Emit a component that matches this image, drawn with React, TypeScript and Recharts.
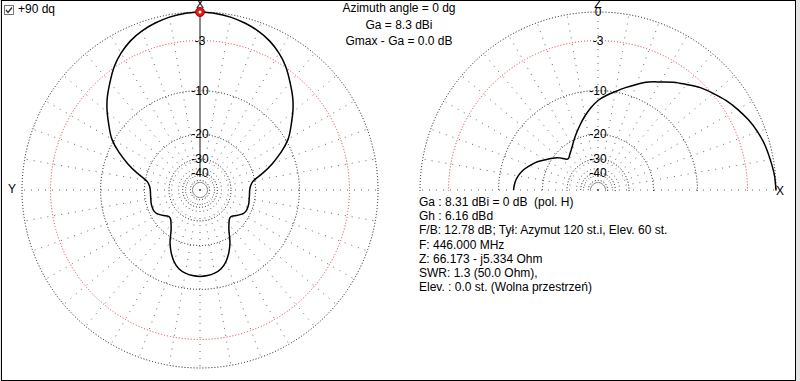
import {
  RadarChart,
  Radar,
  PolarGrid,
  PolarAngleAxis,
  PolarRadiusAxis,
  Curve,
} from "recharts";

// Azimuth pattern (left plot); symmetric, mirrored for 185..355
const azimuthAngles = [
  0, 5, 10, 15, 20, 25, 30, 35, 40, 45, 50, 55, 60, 65, 70, 75, 80, 85, 90,
  95, 100, 105, 110, 115, 120, 125, 130, 135, 140, 145, 150, 155, 160, 165,
  170, 175, 180,
];
const azimuthGainDb = [
  0, -0.07, -0.24, -0.5, -0.85, -1.35, -2.05, -2.95, -4.1, -5.25, -6.6, -8.1,
  -9.6, -11.8, -14.4, -17.3, -20.3, -21.5, -21.9, -21.9, -21.8, -21.6, -21.5,
  -21.6, -22.4, -23.8, -25.2, -25.0, -23.6, -21.6, -18.7, -16.4, -14.6, -13.4,
  -12.8, -12.5, -12.4,
];

// Elevation pattern (right plot), 0 = towards X, 180 = back
const elevationAngles = [
  0, 5, 10, 15, 20, 25, 30, 35, 40, 45, 50, 55, 60, 65, 70, 75, 80, 85, 90,
  95, 100, 105, 110, 115, 120, 125, 130, 135, 140, 145, 150, 155, 160, 165,
  170, 175, 180,
];
const elevationGainDb = [
  0, -0.1, -0.3, -0.5, -0.8, -1.2, -1.7, -2.25, -2.9, -3.55, -4.4, -5.2, -6.1,
  -6.9, -7.9, -8.9, -9.9, -10.8, -11.8, -13.2, -14.8, -16.5, -18.2, -19.8,
  -21.4, -22.7, -23.8, -24.2, -21.8, -20.0, -18.5, -16.8, -15.5, -14.3, -13.5,
  -13.0, -12.8,
];

const ringLevelsDb = [0, -10, -20, -30, -40, -50];
const redRingDb = -3;
const labelLevelsDb = [0, -3, -10, -20, -30, -40];
const spokeAngles = [
  0, 10, 20, 30, 40, 50, 60, 70, 80, 90, 100, 110, 120, 130, 140, 150, 160,
  170, 180, 190, 200, 210, 220, 230, 240, 250, 260, 270, 280, 290, 300, 310,
  320, 330, 340, 350,
];

const headerLines = ["Azimuth angle = 0 dg", "Ga = 8.3 dBi", "Gmax - Ga = 0.0 dB"];
const infoLines = [
  "Ga : 8.31 dBi = 0 dB  (pol. H)",
  "Gh : 6.16 dBd",
  "F/B: 12.78 dB; Tył: Azymut 120 st.i, Elev. 60 st.",
  "F: 446.000 MHz",
  "Z: 66.173 - j5.334 Ohm",
  "SWR: 1.3 (50.0 Ohm),",
  "Elev. : 0.0 st. (Wolna przestrzeń)",
];

const FONT = "'Liberation Sans', Arial, sans-serif";
const R = 178;

// ARRL log scale (MMANA): every 2 dB shrinks the radius by 0.89
const toRadius = (db: number) => Math.pow(0.89, -db / 2);

const azimuthData = [
  ...azimuthAngles.map((a, i) => ({ angle: a, r: toRadius(azimuthGainDb[i]) })),
  ...azimuthAngles
    .slice(1, -1)
    .reverse()
    .map((a) => ({
      angle: 360 - a,
      r: toRadius(azimuthGainDb[azimuthAngles.indexOf(a)]),
    })),
];
const elevationData = elevationAngles.map((a, i) => ({
  angle: a,
  r: toRadius(elevationGainDb[i]),
}));

const makeShape = (closed: boolean) => (props: any) => {
  const pts = (props.points ?? []).map((p: any) => ({ x: p.x, y: p.y }));
  if (closed && pts.length) pts.push(pts[0]);
  return (
    <Curve
      type="natural"
      points={pts}
      stroke="#000"
      strokeWidth={1.5}
      fill="none"
    />
  );
};

const makeTick = (showZero: boolean) => (props: any) => {
  const { x, y, payload } = props;
  const db = labelLevelsDb.find((d) => Math.abs(toRadius(d) - payload.value) < 1e-6);
  if (db === undefined || (db === 0 && !showZero)) return <g />;
  return (
    <text
      x={x}
      y={y}
      textAnchor="middle"
      dominantBaseline="central"
      fontSize={12}
      fontFamily={FONT}
      fill="#000"
    >
      {String(db)}
    </text>
  );
};

function Grids() {
  return [
    <PolarGrid
      key="rings"
      gridType="circle"
      radialLines={false}
      polarRadius={ringLevelsDb.map((d) => R * toRadius(d))}
      stroke="#111"
      strokeDasharray="1 2"
    />,
    <PolarGrid
      key="red"
      gridType="circle"
      radialLines={false}
      polarRadius={[R * toRadius(redRingDb)]}
      stroke="#e8303a"
      strokeDasharray="1 2"
    />,
    <PolarGrid
      key="spokes"
      gridType="circle"
      polarRadius={[]}
      polarAngles={spokeAngles}
      stroke="#666"
      strokeDasharray="1 6"
    />,
  ];
}

export default function App() {
  const text = { position: "absolute" as const, fontFamily: FONT, fontSize: 12, color: "#000" };
  return (
    <div
      style={{
        position: "absolute",
        left: 0,
        top: 0,
        width: 800,
        height: 381,
        background: "#e4e4e4",
        overflow: "hidden",
      }}
    >
      <div
        style={{
          position: "absolute",
          left: 1,
          top: 0,
          width: 793,
          height: 379,
          border: "1px solid #000",
          background: "#fff",
        }}
      />

      {/* azimuth plot */}
      <div style={{ position: "absolute", left: 0, top: 0 }}>
        <RadarChart
          width={400}
          height={381}
          cx={200}
          cy={190}
          outerRadius={R}
          startAngle={90}
          endAngle={-270}
          data={azimuthData}
          margin={{ top: 0, right: 0, bottom: 0, left: 0 }}
        >
          {Grids()}
          <PolarAngleAxis dataKey="angle" type="number" domain={[0, 360]} tick={false} axisLine={false} />
          <PolarRadiusAxis
            angle={90}
            type="number"
            domain={[0, 1]}
            ticks={labelLevelsDb.map(toRadius)}
            tick={makeTick(false)}
            tickLine={false}
            axisLine={{ stroke: "#8a8a8a", strokeWidth: 2 }}
          />
          <Radar
            dataKey="r"
            stroke="#000"
            fill="none"
            fillOpacity={0}
            isAnimationActive={false}
            shape={makeShape(true)}
            dot={(p: any) =>
              p.index === 0 ? (
                <g key="max">
                  <circle cx={p.cx} cy={p.cy} r={4.5} fill="#e01818" stroke="#a00" />
                  <circle cx={p.cx} cy={p.cy} r={1.5} fill="#fff" />
                </g>
              ) : (
                <g key={`d-${p.index}`} />
              )
            }
          />
        </RadarChart>
      </div>

      {/* elevation plot, only the upper half is shown */}
      <div style={{ position: "absolute", left: 398, top: 0, width: 400, height: 191, overflow: "hidden" }}>
        <RadarChart
          width={400}
          height={381}
          cx={200}
          cy={190}
          outerRadius={R}
          startAngle={0}
          endAngle={360}
          data={elevationData}
          margin={{ top: 0, right: 0, bottom: 0, left: 0 }}
        >
          {Grids()}
          <PolarAngleAxis dataKey="angle" type="number" domain={[0, 360]} tick={false} axisLine={false} />
          <PolarRadiusAxis
            angle={90}
            type="number"
            domain={[0, 1]}
            ticks={labelLevelsDb.map(toRadius)}
            tick={makeTick(true)}
            tickLine={false}
            axisLine={false}
          />
          <Radar
            dataKey="r"
            stroke="#000"
            fill="none"
            fillOpacity={0}
            isAnimationActive={false}
            shape={makeShape(false)}
            dot={false}
          />
        </RadarChart>
      </div>

      {/* checkbox */}
      <svg style={{ position: "absolute", left: 4, top: 5 }} width={10} height={10}>
        <rect x={0.5} y={0.5} width={9} height={9} fill="#fff" stroke="#777" />
        <polyline points="2,5 4,7.5 8,2.5" fill="none" stroke="#333" strokeWidth={1.4} />
      </svg>
      <div style={{ ...text, left: 18, top: 2, lineHeight: "14px" }}>+90 dq</div>

      <div style={{ ...text, left: 195, top: -3, width: 10, textAlign: "center", lineHeight: "14px" }}>X</div>
      <div style={{ ...text, left: 593, top: -3, width: 10, textAlign: "center", lineHeight: "14px" }}>Z</div>
      <div style={{ ...text, left: 8, top: 182, lineHeight: "14px" }}>Y</div>
      <div style={{ ...text, left: 776, top: 184, lineHeight: "14px" }}>X</div>

      <div style={{ ...text, left: 299, top: 0, width: 200, textAlign: "center", lineHeight: "16.5px" }}>
        {headerLines.map((l) => (
          <div key={l}>{l}</div>
        ))}
      </div>

      <div style={{ ...text, left: 419, top: 195, lineHeight: "14.2px", whiteSpace: "pre" }}>
        {infoLines.map((l) => (
          <div key={l}>{l}</div>
        ))}
      </div>
    </div>
  );
}
